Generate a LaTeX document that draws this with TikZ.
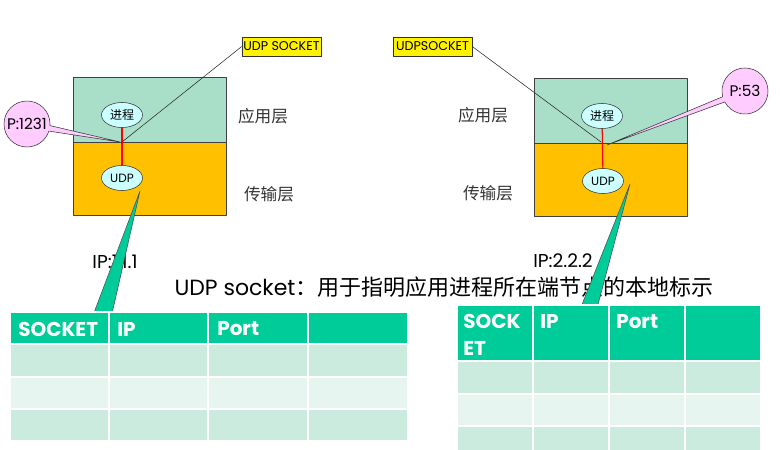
\documentclass[tikz,border=0pt]{standalone}
\usepackage{fontspec}
\setmainfont{Poppins}
\newfontfamily\cjk{Noto Sans CJK SC}
\usetikzlibrary{shapes.geometric,shapes.callouts}

\definecolor{appgreen}{HTML}{A9DFC8}
\definecolor{transorange}{HTML}{FFC000}
\definecolor{bubblecyan}{HTML}{CCFFFF}
\definecolor{portpink}{HTML}{FFCCFF}
\definecolor{headgreen}{HTML}{00CC99}
\definecolor{rowdark}{HTML}{CCEBDF}
\definecolor{rowlight}{HTML}{E6F5EF}

\def\pxu{0.75pt}

\newcommand{\drawtable}[2] {
  \foreach \xa/\xb in #1 {
    \foreach \ya/\yb/\c in #2 {
      \filldraw[fill=\c, draw=white, line width=1.2pt] (\xa,\ya) rectangle (\xb,\yb);
    }
  }
}

\begin{document}
\begin{tikzpicture}[x=0.75pt, y=-0.75pt, line join=round,
  layer/.style={draw=black!75, minimum width=153*\pxu, inner sep=0},
  bubble/.style={ellipse, draw=black!80, fill=bubblecyan, minimum width=41*\pxu,
    minimum height=25*\pxu, inner sep=0, font=\fontsize{9}{9}\selectfont},
  tag/.style={draw=black!80, fill=yellow, minimum width=79*\pxu, minimum height=19*\pxu,
    inner sep=0, font=\fontsize{9.5}{9}\selectfont},
  port/.style={ellipse callout, draw=black!80, fill=portpink, minimum width=46*\pxu,
    minimum height=46*\pxu, inner sep=0, callout pointer arc=14, font=\fontsize{11.5}{10}\selectfont},
  layertext/.style={font=\cjk\fontsize{12.5}{12}\selectfont, text=black!80},
  headtext/.style={text=white, inner sep=0, font=\fontsize{15}{20}\selectfont\bfseries},
  wedge/.style={fill=headgreen, draw=black!70, thin}]
  \useasboundingbox (0,0) rectangle (780,449);

  % host 1
  \node[layer, fill=appgreen, minimum height=65*\pxu] (app1) at (149.5,109.5) {};
  \node[layer, fill=transorange, minimum height=73*\pxu] (trans1) at (149.5,178.5) {};
  \node[bubble] (proc1) at (122,115) {\cjk 进程};
  \node[bubble] (udp1) at (122,178) {UDP};
  \coordinate (sock1) at (122,142);
  \draw[red, thick] (proc1) -- (udp1);
  \node[layertext] (applab1) at (263,116) {应用层};
  \node[layertext] (translab1) at (269,194) {传输层};
  \node[tag] (tag1) at (281.5,46.5) {UDP SOCKET};
  \draw[black!85] (tag1.west) -- (sock1);
  \node[port, callout absolute pointer={(120,142)}] (port1) at (27,124) {\makebox[0pt]{P:1231}};

  % host 2
  \node[layer, fill=appgreen, minimum height=65*\pxu] (app2) at (610.5,110.5) {};
  \node[layer, fill=transorange, minimum height=73*\pxu] (trans2) at (610.5,179.5) {};
  \node[bubble] (proc2) at (602,116) {\cjk 进程};
  \node[bubble] (udp2) at (603,181) {UDP};
  \coordinate (sock2) at (601,142);
  \draw[red, thick] (proc2) -- (udp2);
  \node[layertext] (applab2) at (483,115) {应用层};
  \node[layertext] (translab2) at (488,193) {传输层};
  \node[tag] (tag2) at (432.5,46.5) {UDPSOCKET};
  \draw[black!85] (tag2.east) -- (sock2);
  \node[port, callout absolute pointer={(607,145)}] (port2) at (745,91) {\makebox[0pt]{P:53}};

  % texts
  \node[font=\fontsize{14}{14}\selectfont] (ip1) at (115,262) {IP:1.1.1};
  \node[font=\fontsize{14}{14}\selectfont] (ip2) at (563,261) {IP:2.2.2};
  \node[font=\fontsize{16.5}{16}\selectfont] (caption) at (444,287)
    {UDP socket{\cjk ：用于指明应用进程所在端节点的本地标示}};

  % pointers to the tables
  \coordinate (tip1) at (140,191);
  \coordinate (tip2) at (630,184);
  \filldraw[wedge] (tip1) -- (92,318) -- (111,318) -- cycle;
  \filldraw[wedge] (tip2) -- (579,312) -- (596,312) -- cycle;

  % tables
  \drawtable{{10/109,109/208,208/308,308/408}}
    {{312/344/headgreen,344/377/rowdark,377/409/rowlight,409/441/rowdark}}
  \drawtable{{457/533,533/609,609/685,685/761}}
    {{305/361/headgreen,361/394/rowdark,394/426/rowlight,426/452/rowdark}}
  \node[headtext, anchor=west] (sockh1) at (18,329) {SOCKET};
  \node[headtext, anchor=west] (iph1) at (117,329) {IP};
  \node[headtext, anchor=west] (porth1) at (217,329) {Port};
  \node[headtext, anchor=north west, align=left] (sockh2) at (463,314) {SOCK\\ET};
  \node[headtext, anchor=north west] (iph2) at (540,314) {IP};
  \node[headtext, anchor=north west] (porth2) at (616,314) {Port};
\end{tikzpicture}
\end{document}
